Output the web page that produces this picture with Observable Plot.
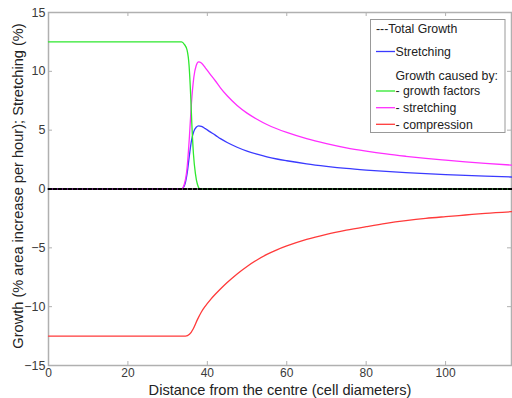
<!DOCTYPE html>
<html>
<head>
<meta charset="utf-8">
<script src="https://cdn.jsdelivr.net/npm/d3@7"></script>
<script src="https://cdn.jsdelivr.net/npm/@observablehq/plot@0.6"></script>
<style>
  html, body { margin: 0; padding: 0; background: #fff; overflow: hidden; }
  #chart svg { display: block; }
</style>
</head>
<body>
<div id="chart"></div>
<script>
// ---- data ----
const xTicks = [0, 20, 40, 60, 80, 100];
const yTicks = [-15, -10, -5, 0, 5, 10, 15];
const xMax = 116.6;

const totalGrowth = [[0, 0], [116.6, 0]];

const stretchingBlue = [
  [0, 0], [33.5, 0], [34.2, 0.25], [34.9, 1.3], [35.5, 2.9], [36.0, 4.1], [36.6, 4.9],
  [37.2, 5.25], [37.8, 5.37], [38.5, 5.33], [39.5, 5.13], [40.5, 4.9], [42, 4.58],
  [43.3, 4.28], [45, 3.95], [47.5, 3.55], [50, 3.22], [52.5, 2.96], [55, 2.73],
  [57.5, 2.55], [60, 2.4], [65, 2.14], [70, 1.93], [75, 1.75], [80, 1.61], [85, 1.49],
  [90, 1.39], [95, 1.3], [100, 1.22], [105, 1.15], [110, 1.09], [116.6, 1.02]
];

const growthFactors = [
  [0, 12.5], [33.5, 12.5], [34.2, 12.3], [34.9, 11.8], [35.4, 10.5], [35.8, 8],
  [36.1, 5.5], [36.5, 3], [37, 1.3], [37.5, 0.4], [38.2, 0], [116.6, 0]
];

const growthStretching = [
  [0, 0], [33.5, 0], [34.2, 0.4], [34.9, 1.8], [35.5, 4.5], [36.0, 7.3], [36.6, 9.5],
  [37.2, 10.5], [37.8, 10.8], [38.5, 10.7], [39.5, 10.3], [40.5, 9.85], [42, 9.2],
  [43.3, 8.6], [45, 7.92], [47.5, 7.1], [50, 6.45], [52.5, 5.93], [55, 5.48],
  [57.5, 5.12], [60, 4.81], [65, 4.28], [70, 3.86], [75, 3.5], [80, 3.22], [85, 2.98],
  [90, 2.78], [95, 2.6], [100, 2.45], [105, 2.31], [110, 2.18], [116.6, 2.03]
];

const growthCompression = [
  [0, -12.5], [34.5, -12.5], [35.5, -12.35], [36.5, -11.85], [37.5, -11.1], [38.5, -10.45],
  [39.5, -9.95], [40.8, -9.4], [42, -8.95], [43.3, -8.5], [45, -7.95], [47.5, -7.22],
  [50, -6.58], [52.5, -6.03], [55, -5.56], [57.5, -5.17], [60, -4.84], [65, -4.28],
  [70, -3.85], [75, -3.5], [80, -3.2], [85, -2.92], [90, -2.69], [95, -2.5],
  [100, -2.35], [105, -2.21], [110, -2.07], [116.6, -1.93]
];

const legendItems = [
  {label: "---Total Growth", color: null},
  {label: "Stretching", color: "#3a3aff"},
  {label: "Growth caused by:", color: null, header: true},
  {label: "- growth factors", color: "#2ee82e"},
  {label: "- stretching", color: "#ff2eff"},
  {label: "- compression", color: "#ff3a3a"}
];

// ---- layout ----
const W = 512, H = 398;
const mL = 48, mR = 1, mT = 12, mB = 33;
const plotW = W - mL - mR, plotH = H - mT - mB;
const tickLen = 4;
const font = "'Liberation Sans', Arial, sans-serif";
const frameColor = "#b0b0b0";
const textColor = "#3a3a3a";

const chart = Plot.plot({
  width: W, height: H,
  marginLeft: mL, marginRight: mR, marginTop: mT, marginBottom: mB,
  style: {fontFamily: font, fontSize: "12px", color: textColor, background: "#fff"},
  x: {domain: [0, xMax]},
  y: {domain: [-15, 15]},
  marks: [
    Plot.frame({stroke: frameColor, strokeWidth: 1.5}),
    // inward ticks (bottom, top, left, right)
    Plot.tickX(xTicks, {x: d => d, stroke: frameColor, insetTop: plotH - tickLen}),
    Plot.tickX(xTicks, {x: d => d, stroke: frameColor, insetBottom: plotH - tickLen}),
    Plot.tickY(yTicks, {y: d => d, stroke: frameColor, insetRight: plotW - tickLen}),
    Plot.tickY(yTicks, {y: d => d, stroke: frameColor, insetLeft: plotW - tickLen}),
    Plot.axisX({ticks: xTicks, tickSize: 0, tickPadding: 2.5, label: null, fill: textColor, fontSize: 12}),
    Plot.axisY({ticks: yTicks, tickSize: 0, tickPadding: 3, label: null, fill: textColor, fontSize: 12.5}),
    // curves
    Plot.line(growthCompression, {x: d => d[0], y: d => d[1], stroke: "#ff3a3a", strokeWidth: 1.3, curve: "monotone-x"}),
    Plot.line(stretchingBlue, {x: d => d[0], y: d => d[1], stroke: "#3a3aff", strokeWidth: 1.3, curve: "monotone-x"}),
    Plot.line(growthStretching, {x: d => d[0], y: d => d[1], stroke: "#ff2eff", strokeWidth: 1.3, curve: "monotone-x"}),
    Plot.line(growthFactors, {x: d => d[0], y: d => d[1], stroke: "#2ee82e", strokeWidth: 1.3, curve: "monotone-x"}),
    Plot.line(totalGrowth, {x: d => d[0], y: d => d[1], stroke: "#000", strokeWidth: 2, strokeDasharray: "3,2"}),
    // axis titles
    Plot.text(["Distance from the centre (cell diameters)"], {frameAnchor: "bottom", dy: 24.5, lineAnchor: "middle", textAnchor: "middle", fontSize: 14.6, fill: "#222"}),
    Plot.text(["Growth (% area increase per hour); Stretching (%)"], {frameAnchor: "left", dx: -30, dy: -3, rotate: -90, lineAnchor: "middle", textAnchor: "middle", fontSize: 14.6, fill: "#222"})
  ]
});

document.getElementById("chart").appendChild(chart);

// ---- legend box ----
const svg = d3.select(chart);
const lg = svg.append("g").attr("font-family", font).attr("font-size", 12.3).attr("fill", "#222").attr("text-anchor", "start");
lg.append("rect").attr("x", 370.5).attr("y", 19.5).attr("width", 134.5).attr("height", 113)
  .attr("fill", "#fff").attr("stroke", "#999").attr("stroke-width", 1);
const rowsY = [29, 51.5, 75.5, 91, 107.7, 124.3];
legendItems.forEach((it, i) => {
  const y = rowsY[i];
  if (it.color) {
    lg.append("line").attr("x1", 376).attr("x2", 395).attr("y1", y).attr("y2", y)
      .attr("stroke", it.color).attr("stroke-width", 1.3);
  }
  lg.append("text").attr("x", it.color || it.header ? 395.5 : 376).attr("y", y)
    .attr("dy", "0.36em").attr("text-anchor", "start").text(it.label);
});
</script>
</body>
</html>
